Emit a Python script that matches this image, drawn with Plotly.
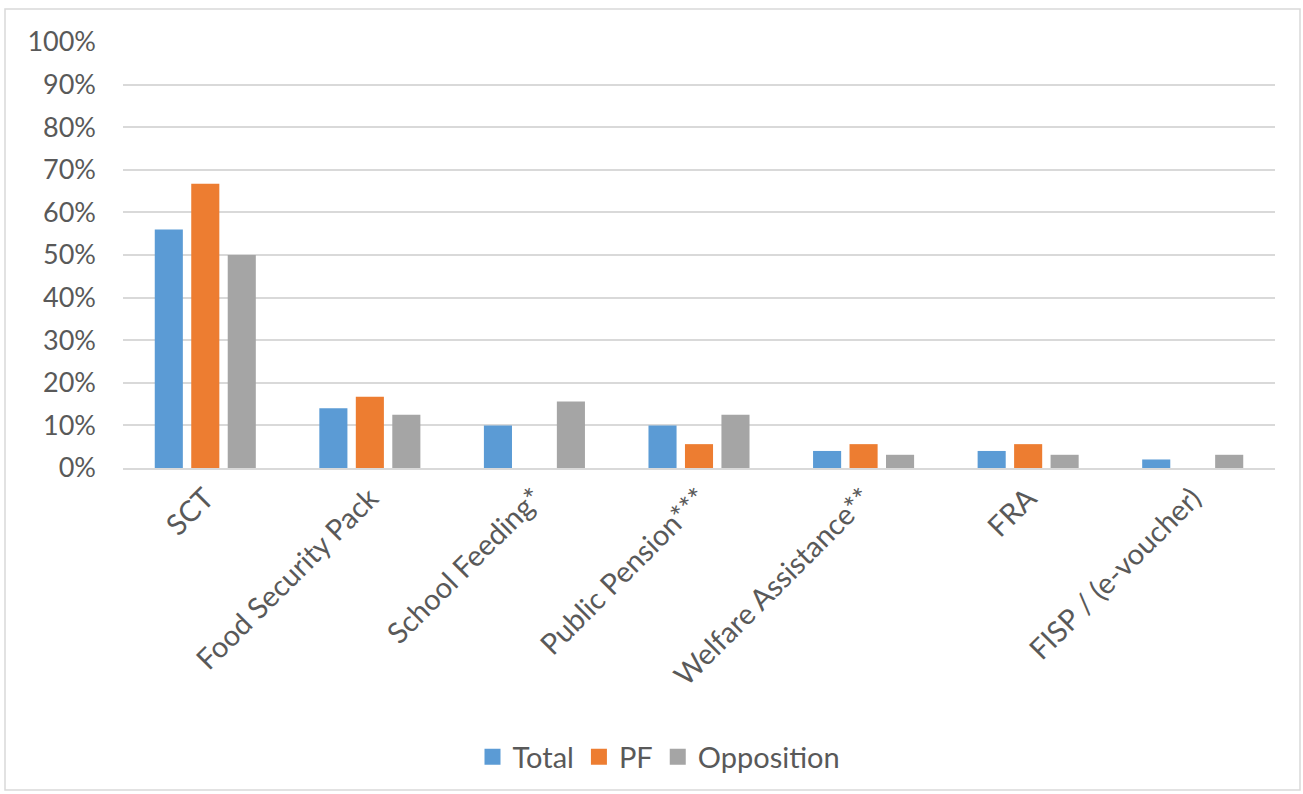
import plotly.graph_objects as go

categories = ["SCT", "Food Security Pack", "School Feeding*", "Public Pension***",
              "Welfare Assistance**", "FRA", "FISP / (e-voucher)"]
total = [0.56, 0.14, 0.10, 0.10, 0.04, 0.04, 0.02]
pf = [0.667, 0.167, 0.0, 0.056, 0.056, 0.056, 0.0]
opposition = [0.50, 0.125, 0.156, 0.125, 0.031, 0.031, 0.031]
y_ticks = [i / 10 for i in range(11)]

W, H = 1303, 794
L, R, T, B = 123, 1275, 42, 468

def px_x(x):
    return (x - L) / (R - L)

def px_y(y):
    return (B - y) / (B - T)

series = [("Total", total, "#5B9BD5"), ("PF", pf, "#ED7D31"),
          ("Opposition", opposition, "#A5A5A5")]

fig = go.Figure()
for name, vals, col in series:
    fig.add_trace(go.Bar(x=categories, y=vals, name=name, marker_color=col,
                         marker_line_width=0, showlegend=False, legendgroup=name))
for name, vals, col in series:
    fig.add_trace(go.Scatter(x=[categories[0]], y=[None], mode="markers", name=name,
                             legendgroup=name,
                             marker=dict(symbol="square", size=17, color=col)))

font = "Lato, Carlito, Calibri, sans-serif"
fig.update_layout(
    width=W, height=H,
    margin=dict(l=L, r=W - R, t=T, b=H - B),
    paper_bgcolor="white", plot_bgcolor="white",
    barmode="group", bargap=0.335, bargroupgap=0.23,
    font=dict(family=font, size=27, color="#595959"),
    xaxis=dict(tickangle=-45, showgrid=False, showline=True, linecolor="#D9D9D9",
               linewidth=1.5, ticks="", tickfont=dict(size=29, color="#595959")),
    yaxis=dict(range=[0, 1], tickvals=y_ticks, tickformat=".0%",
               showgrid=True, gridcolor="#D9D9D9", gridwidth=1.5,
               zeroline=False, ticks="", ticklabelstandoff=26,
               tickfont=dict(size=27, color="#595959")),
    legend=dict(orientation="h", x=px_x(659), xanchor="center",
                y=px_y(757), yanchor="middle", font=dict(size=29, color="#595959"),
                itemwidth=30, traceorder="normal"),
    showlegend=True,
)
fig.add_shape(type="rect", xref="paper", yref="paper",
              x0=px_x(5), x1=px_x(1300), y0=px_y(790), y1=px_y(9),
              line=dict(color="#D9D9D9", width=1.5), fillcolor="rgba(0,0,0,0)",
              layer="below")
fig.write_html("out.html")
